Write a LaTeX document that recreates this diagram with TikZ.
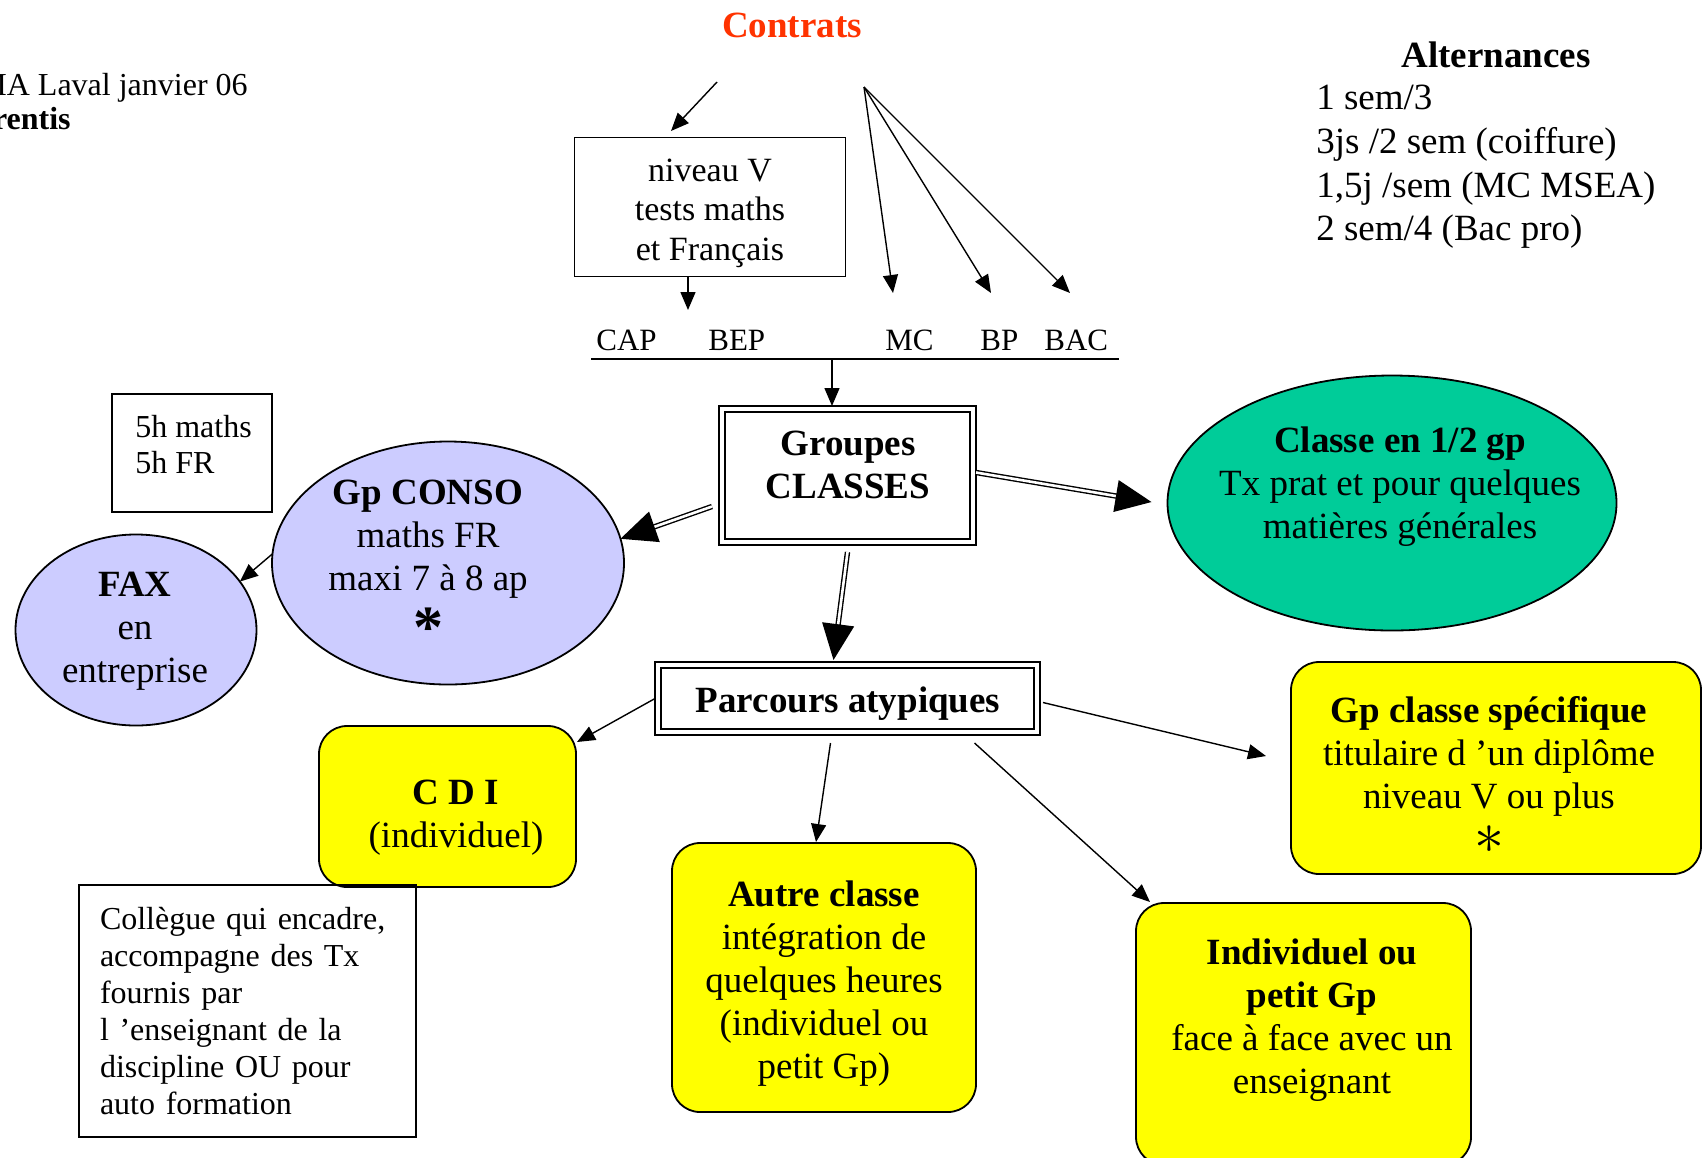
\documentclass[tikz,border=0pt]{standalone}
\usepackage{fontspec}
\setmainfont{Liberation Serif}
\usetikzlibrary{arrows.meta,shapes.geometric,calc}

\definecolor{lavande}{HTML}{CCCCFF}
\definecolor{vertdemi}{HTML}{00CC99}
\definecolor{jaune}{HTML}{FFFF00}
\definecolor{rougecontrat}{HTML}{FF3300}

\newcommand\fsBig{\fontsize{37}{43}\selectfont}
\newcommand\fsMid{\fontsize{34}{39.5}\selectfont}
\newcommand\fsSmall{\fontsize{32}{37}\selectfont}
\newcommand\fsBar{\fontsize{31}{36}\selectfont}

\begin{document}
\begin{tikzpicture}[x=1pt,y=-1pt,
  every node/.style={outer sep=0pt},
  arr/.style={line width=1.4pt,-{Triangle[length=18pt,width=15pt]}},
  dblarr/.style={double,line width=1.4pt,double distance=2.6pt,
                 -{Triangle[length=36pt,width=32pt]}},
  plainbox/.style={draw,line width=1.6pt,inner sep=0pt},
  dblbox/.style={draw,line width=1.7pt,inner sep=0pt,fill=white},
  yelbox/.style={draw,line width=1.8pt,fill=jaune,rounded corners=28pt,inner sep=0pt},
  bubble/.style={ellipse,draw,line width=1.8pt,inner sep=0pt},
]
\useasboundingbox (0,0) rectangle (1704,1157);

% ---- header texts
\node[font=\fsSmall,anchor=base east] (lieu) at (251,95) {MA Laval janvier 06};
\node[font=\fsSmall\bfseries,anchor=base east] (public) at (74,129) {rentis};
\node[font=\fsBig\bfseries,text=rougecontrat,anchor=base] (contrats) at (792,37) {Contrats};

% ---- alternances
\node[font=\fsBig\bfseries,anchor=base] (alt) at (1496,67) {Alternances};
\node[font=\fsBig,anchor=base west] (alt1) at (1313,109) {1 sem/3};
\node[font=\fsBig,anchor=base west] (alt2) at (1313,153) {3js /2 sem (coiffure)};
\node[font=\fsBig,anchor=base west] (alt3) at (1313,197) {1,5j /sem (MC MSEA)};
\node[font=\fsBig,anchor=base west] (alt4) at (1313,240) {2 sem/4 (Bac pro)};

% ---- level box and diplomas bar
\node[plainbox,minimum width=271,minimum height=139] (niveau) at (710,207) {};
\node[font=\fsMid,align=center] (niveauText) at (710,213) {niveau V\\tests maths\\et Français};

\coordinate (barL) at (591,359);
\coordinate (barR) at (1119,359);
\draw[line width=1.6pt] (barL) -- (barR);
\node[font=\fsBar,anchor=base west] (cap) at (593,350) {CAP};
\node[font=\fsBar,anchor=base west] (bep) at (705,350) {BEP};
\node[font=\fsBar,anchor=base west] (mc) at (882,350) {MC};
\node[font=\fsBar,anchor=base west] (bp) at (977,350) {BP};
\node[font=\fsBar,anchor=base west] (bac) at (1041,350) {BAC};

% ---- central boxes
\node[dblbox,minimum width=257,minimum height=139] (grp) at (847.5,475.5) {};
\node[font=\fsBig\bfseries,align=center] (grpText) at (848,465) {Groupes\\CLASSES};
\node[dblbox,minimum width=385,minimum height=73] (parc) at (847.5,698.5) {};
\node[font=\fsBig\bfseries] (parcText) at (848,704) {Parcours atypiques};
\foreach \n in {grp,parc}
  \draw[line width=2.5pt] ($(\n.south west)+(6,-6)$) rectangle ($(\n.north east)+(-6,6)$);

% ---- ellipses
\node[bubble,fill=vertdemi,minimum width=449,minimum height=255] (classe) at (1392,503) {};
\node[font=\fsBig,align=center] (classeText) at (1400,487)
  {\textbf{Classe en 1/2 gp}\\Tx prat et pour quelques\\matières générales};

\node[bubble,fill=lavande,minimum width=352,minimum height=243] (conso) at (448,563) {};
\node[font=\fsBig,align=center] (consoText) at (428,539)
  {\textbf{Gp CONSO}\\maths FR\\maxi 7 à 8 ap};
\node[font=\fontsize{60}{60}\selectfont\bfseries,anchor=base,inner sep=0pt] (consoStar) at (428,647) {*};

\node[bubble,fill=lavande,minimum width=241,minimum height=191] (fax) at (136,630) {};
\node[font=\fsBig,align=center] (faxText) at (135,631) {\textbf{FAX}\\en\\entreprise};

% ---- hours box
\node[plainbox,minimum width=160,minimum height=118] (heures) at (192,453) {};
\node[font=\fsSmall,anchor=base west] (heures1) at (132,437) {5h maths};
\node[font=\fsSmall,anchor=base west] (heures2) at (132,473) {5h FR};

% ---- yellow boxes
\node[yelbox,minimum width=257,minimum height=161] (cdi) at (447.5,806.5) {};
\node[font=\fsBig,align=center] (cdiText) at (456,818) {\textbf{C D I}\\(individuel)};

\node[plainbox,minimum width=337,minimum height=252,text width=295,align=left,font=\fsSmall]
  (coll) at (247.5,1011)
  {Collègue qui encadre,\\accompagne des Tx\\fournis par\\l ’enseignant de la\\discipline OU pour\\auto formation};

\node[yelbox,minimum width=304,minimum height=269] (autre) at (824,977.5) {};
\node[font=\fsBig,align=center] (autreText) at (824,984)
  {\textbf{Autre classe}\\intégration de\\quelques heures\\(individuel ou\\petit Gp)};

\node[yelbox,minimum width=410,minimum height=212] (spec) at (1496,768) {};
\node[font=\fsBig,align=center,inner sep=0pt] (specText) at (1489,756)
  {\textbf{Gp classe spécifique}\\titulaire d ’un diplôme\\niveau V ou plus};
\node[font=\fontsize{24.88}{25}\selectfont,scale=2.4,inner sep=0pt] (specStar) at (1489,840) {$\ast$};

\node[yelbox,minimum width=335,minimum height=262] (indiv) at (1303.5,1034) {};
\node[font=\fsBig,align=center] (indivText) at (1312,1020)
  {\textbf{Individuel ou}\\\textbf{petit Gp}\\face à face avec un\\enseignant};

% ---- connectors from the contracts
\coordinate (cSrcL) at (717,82);
\coordinate (cDstL) at (671,131);
\draw[arr] (cSrcL) -- (cDstL);
\coordinate (fanSrc) at (864,87);
\coordinate (mcIn) at (893,293);
\coordinate (bpIn) at (991,293);
\coordinate (bacIn) at (1070,293);
\draw[arr] (fanSrc) -- (mcIn);
\draw[arr] (fanSrc) -- (bpIn);
\draw[arr] (fanSrc) -- (bacIn);
\coordinate (capIn) at (688,310);
\draw[arr] (niveau.south -| capIn) -- (capIn);
\coordinate (barDrop) at (832,359);
\draw[arr] (barDrop) -- (barDrop |- grp.north);

% ---- double connectors from the class groups
\draw[dblarr] ($(grp.west)+(-7,31)$) -- (conso.8);
\draw[dblarr] ($(grp.east)+(0,-3)$) -- ($(classe.west)+(-16,-1)$);
\draw[dblarr] ($(grp.south)+(0,7)$) -- ($(parc.north)+(-14,-2)$);

% ---- single connectors
\draw[arr] (conso.177) -- (fax.25);
\draw[arr] (parc.west) -- ($(cdi.north east)+(1,16)$);
\draw[arr] ($(parc.south)+(-17,8)$) -- ($(autre.north)+(-8,-1)$);
\draw[arr] ($(parc.south)+(127,8)$) -- ($(indiv.north west)+(14,-1)$);
\draw[arr] ($(parc.east)+(3,4)$) -- ($(spec.west)+(-25,-12)$);
\end{tikzpicture}
\end{document}
